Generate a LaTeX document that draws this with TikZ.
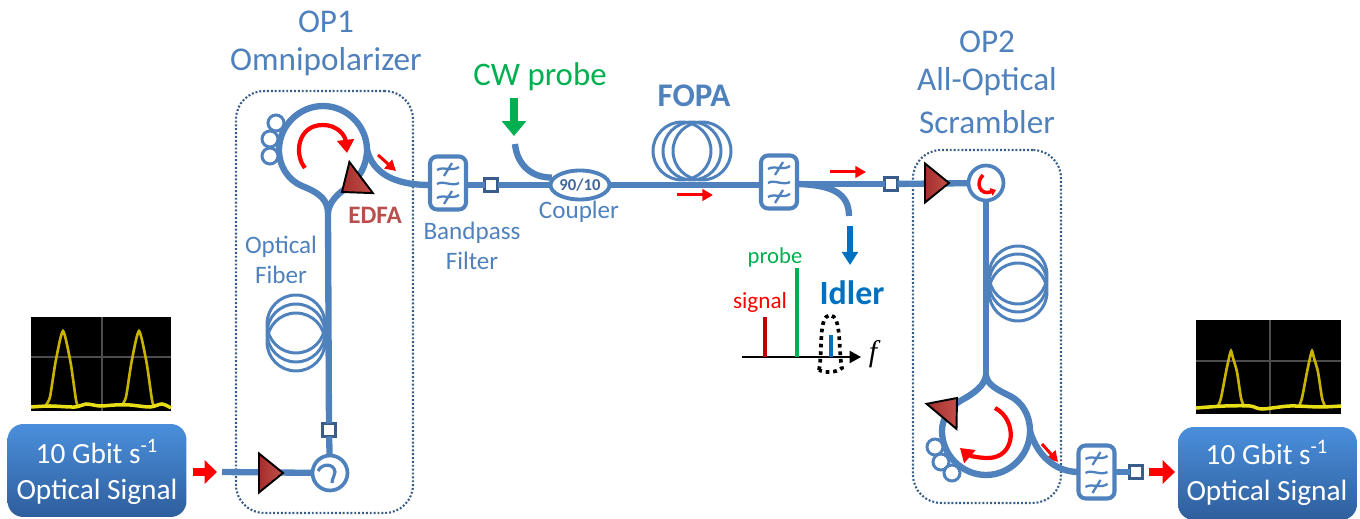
\documentclass[tikz,border=0pt]{standalone}
\usepackage{fontspec}
\setmainfont{Carlito}
\newfontfamily\serifa{Liberation Serif}
\usetikzlibrary{arrows.meta,shapes.geometric}
\definecolor{fibra}{HTML}{4F81BD}
\definecolor{escuro}{HTML}{385D8A}
\definecolor{verde}{HTML}{00B050}
\definecolor{azul}{HTML}{0070C0}
\definecolor{edfa}{HTML}{B94F4D}
\definecolor{ambar}{HTML}{C8B400}
\definecolor{ampesq}{HTML}{A32E2B}
\definecolor{ampdir}{HTML}{C4504C}
\definecolor{caixaA}{HTML}{4A8FDC}
\definecolor{caixaB}{HTML}{3E7FCC}
\definecolor{caixaC}{HTML}{2F5E9C}
\newcommand{\fibra}{\draw[line width=3.6pt,fibra]}
\newcommand{\seta}{\draw[-{Triangle[length=6pt,width=6.5pt]},line width=1.7pt,red]}
\newcommand{\setona}{\draw[-{Triangle[length=7pt,width=13pt]},line width=4.5pt,red]}
\newcommand{\giro}{\draw[-{Triangle[length=7.5pt,width=9.5pt]},line width=2.4pt,red]}
\newcommand{\filtro}[1]{%
  \draw[line width=1.3pt,fibra,shift={(#1)}]
    (-11,-13) .. controls (-5,-17) and (4,-11) .. (11,-16)
    (-4,-7) -- (4,-20)
    (-11,1) .. controls (-5,-3) and (4,4) .. (11,0)
    (-11,15) .. controls (-5,11) and (4,17) .. (11,12)
    (-4,21) -- (4,8);}
\tikzset{
  dotbox/.style={draw=escuro,dash pattern=on 1.1pt off 1.1pt,line width=1.2pt,rounded corners=16pt,inner sep=0pt},
  sqbox/.style={draw=escuro,fill=white,line width=1.8pt,minimum size=0.26cm,inner sep=0pt,outer sep=0pt},
  filterbox/.style={draw=fibra,fill=white,line width=2.3pt,rounded corners=4pt,minimum width=0.72cm,minimum height=1.06cm,inner sep=0pt,outer sep=0pt},
  circbox/.style={circle,draw=fibra,fill=white,line width=2.1pt,minimum size=0.7cm,inner sep=0pt,outer sep=0pt},
  coil/.style={circle,draw=fibra,line width=1.7pt,minimum size=1.16cm,inner sep=0pt},
  pump/.style={circle,draw=fibra,fill=white,line width=1.7pt,minimum size=0.32cm,inner sep=0pt},
  ampnode/.style={isosceles triangle,isosceles triangle stretches,draw=black,line width=1.1pt,left color=ampesq,right color=ampdir,
    minimum width=0.78cm,minimum height=0.48cm,inner sep=0pt,outer sep=0pt,anchor=apex},
  signalbox/.style={rounded corners=9pt,top color=caixaA,middle color=caixaB,bottom color=caixaC,
    minimum width=3.58cm,minimum height=1.86cm,inner sep=0pt},
  boxtext/.style={align=center,text=white,font=\fontsize{16.7}{20.5}\selectfont},
  scopebox/.style={fill=black,inner sep=0pt,minimum width=2.8cm,minimum height=1.88cm},
  titulo/.style={text=fibra,font=\fontsize{18.9}{20}\selectfont},
  rotulo/.style={text=fibra,font=\fontsize{14.3}{17}\selectfont,align=center},
  grade/.style={draw=gray!60!black,line width=0.6pt},
  traco/.style={draw=ambar,line width=1.5pt},
  base/.style={draw=yellow!90!black,line width=2pt}
}

\begin{document}
\begin{tikzpicture}[x=0.02cm,y=-0.02cm]
  \useasboundingbox (0,0) rectangle (1360,519);

  % caixas pontilhadas
  \node(op1) [dotbox,minimum width=3.54cm,minimum height=8.44cm] at (324.5,302) {};
  \node(op2) [dotbox,minimum width=2.96cm,minimum height=7.06cm] at (987,326.5) {};

  % entrada
  \node(in)   [signalbox] at (97,470.5) {};
  \node(inT)  [boxtext]   at (97,472) {10 Gbit s\textsuperscript{-1}\\Optical Signal};
  \node(scA)  [scopebox]  at (101,364) {};
  \draw[grade] (102,317) -- (102,411) (31,357) -- (171,357);
  \draw[traco] plot[smooth,tension=0.4] coordinates {(46,405) (50,397) (55,365) (60,340) (63,331) (66,340) (71,365) (76,400) (78,406)};
  \draw[traco] plot[smooth,tension=0.4] coordinates {(122,405) (126,397) (131,365) (136,340) (139,331) (142,340) (147,365) (152,400) (154,406)};
  \draw[base] plot[smooth] coordinates {(31,407) (50,406) (75,407) (86,404) (100,406) (115,405) (130,405) (150,407) (162,404) (171,408)};
  \coordinate(a1) at (193,472); \coordinate(a2) at (217,472);
  \setona(a1) -- (a2);

  % OP1
  \coordinate(f0) at (222,472);
  \node(circA) [circbox] at (330,473) {};
  \fibra(f0) -- (circA);
  \node(ampA)  [ampnode] at (283,473) {};
  \node(sqA)   [sqbox] at (329,430) {};
  \coordinate(jA) at (328,214);
  \fibra(circA) -- (sqA);
  \fibra(sqA) -- (jA);
  \fibra(jA) .. controls (328,200) and (320,193) .. (302,186) .. controls (288,180) and (279,166) .. (279,150) .. controls (279,126) and (299,106) .. (323,106) .. controls (347,106) and (367,126) .. (367,150) .. controls (367,166) and (358,180) .. (348,187) .. controls (338,193) and (328,203) .. (jA);
  \draw[line width=1.8pt,fibra] (318,471) .. controls (322,463) and (334,463) .. (335,472) .. controls (335,476) and (332,478) .. (332,483);
  \node(cA1) [coil] at (296,324) {};
  \node(cA2) [coil] at (296,333) {};
  \node(cA3) [coil] at (296,342) {};
  \node(pA1) [pump] at (276,123) {};
  \node(pA2) [pump] at (270,139) {};
  \node(pA3) [pump] at (270,156) {};
  \node(ampB) [ampnode,rotate=217] at (342,192) {};
  \coordinate(g1) at (305,168); \coordinate(g2) at (347,153);
  \giro(g1) .. controls (294,155) and (297,125) .. (323,125) .. controls (337,125) and (345,135) .. (g2);
  \coordinate(a3) at (378,155); \coordinate(a4) at (396,171);
  \seta(a3) -- (a4);

  % filtro 1 e acoplador
  \node(bpfA) [filterbox] at (448,183) {};
  \filtro{bpfA}
  \fibra(367,150) .. controls (373,172) and (392,185) .. (bpfA.west |- 0,185);
  \node(sqB)  [sqbox] at (491,185) {};
  \fibra(bpfA.east |- sqB) -- (sqB);
  \node(cpl)  [ellipse,draw=fibra,fill=white,line width=2.2pt,minimum width=1.18cm,minimum height=0.58cm,inner sep=0pt,text=fibra!80!black,font=\fontsize{9.5}{10}\bfseries] at (580,185) {90/10};
  \fibra(sqB) -- (cpl);
  \coordinate(pb) at (515,144);
  \fibra(pb) .. controls (517,165) and (532,178) .. (cpl.165);
  \coordinate(g3) at (514,98); \coordinate(g4) at (514,136);
  \draw[-{Triangle[length=8.5pt,width=13.5pt]},line width=4.5pt,verde] (g3) -- (g4);

  % FOPA
  \node(bpfB) [filterbox] at (779,182) {};
  \filtro{bpfB}
  \fibra(cpl) -- (bpfB.west |- cpl);
  \node(cB1) [coil] at (682,151) {};
  \node(cB2) [coil] at (692,151) {};
  \node(cB3) [coil] at (702,151) {};
  \coordinate(a5) at (677,195); \coordinate(a6) at (713,195);
  \seta(a5) -- (a6);

  % saida do filtro 2
  \node(sqC) [sqbox] at (891,184) {};
  \fibra(bpfB.east |- sqC) -- (sqC);
  \coordinate(id) at (849,216);
  \fibra(bpfB.east |- sqC) .. controls (830,185) and (849,192) .. (id);
  \coordinate(a7) at (830,172); \coordinate(a8) at (866,172);
  \seta(a7) -- (a8);
  \coordinate(g5) at (850,226); \coordinate(g6) at (850,265);
  \draw[-{Triangle[length=7.5pt,width=9pt]},line width=3.2pt,azul] (g5) -- (g6);

  % espectro
  \coordinate(e0) at (742,357); \coordinate(e1) at (861,357);
  \draw[-{Triangle[length=6.5pt,width=7pt]},line width=1pt] (e0) -- (e1);
  \coordinate(s0) at (765,357); \coordinate(s1) at (765,317);
  \coordinate(p0) at (797,357); \coordinate(p1) at (797,268);
  \coordinate(i0) at (831,357); \coordinate(i1) at (831,335);
  \draw[line width=2.8pt,red!75!black] (s0) -- (s1);
  \draw[line width=2.8pt,verde] (p0) -- (p1);
  \draw[line width=2.8pt,azul] (i0) -- (i1);
  \draw[line width=2.1pt,dash pattern=on 2.1pt off 2.2pt] (819,370) .. controls (823,350) and (818,316) .. (830,315) .. controls (842,316) and (838,350) .. (842,368) .. controls (836,373) and (825,373) .. (819,370);
  \node(fq)   [font=\fontsize{17}{18}\serifa\itshape] at (873,354) {f};
  \node(lsig) [text=red,font=\fontsize{13.2}{15}\selectfont] at (760,302) {signal};
  \node(lprb) [text=verde,font=\fontsize{12.9}{15}\selectfont] at (775,257) {probe};
  \node(lidl) [text=azul,font=\fontsize{19.3}{22}\selectfont\bfseries] at (852,293) {Idler};

  % OP2
  \node(circB) [circbox] at (986,183) {};
  \fibra(sqC) -- (circB);
  \node(ampC)  [ampnode] at (949,183) {};
  \coordinate(jB) at (986,375);
  \fibra(circB) -- (jB);
  \fibra(jB) .. controls (985,385) and (975,393) .. (960,401) .. controls (950,408) and (942,418) .. (942,431) .. controls (942,455) and (962,475) .. (986,475) .. controls (1010,475) and (1030,455) .. (1030,431) .. controls (1030,415) and (1022,402) .. (1010,396) .. controls (998,390) and (987,385) .. (jB);
  \coordinate(g7) at (983,175); \coordinate(g8) at (996,190);
  \draw[-{Triangle[length=3pt,width=4.5pt]},line width=2pt,red] (g7) .. controls (975,183) and (980,196) .. (g8);
  \node(cC1) [coil] at (1018,275) {};
  \node(cC2) [coil] at (1018,283) {};
  \node(cC3) [coil] at (1018,292) {};
  \node(pB1) [pump] at (935,447) {};
  \node(pB2) [pump] at (941,462) {};
  \node(pB3) [pump] at (952,473) {};
  \node(ampD) [ampnode,rotate=50] at (957,398) {};
  \coordinate(g9) at (995,408); \coordinate(g10) at (960,448);
  \giro(g9) .. controls (1018,420) and (1016,458) .. (988,458) .. controls (977,458) and (968,455) .. (g10);
  \coordinate(a9) at (1042,444); \coordinate(a10) at (1058,462);
  \seta(a9) -- (a10);

  % filtro 3 e saida
  \node(bpfC) [filterbox] at (1096.5,472) {};
  \filtro{bpfC}
  \fibra(1030,431) .. controls (1037,455) and (1055,472) .. (bpfC.west);
  \node(sqD) [sqbox] at (1136,472) {};
  \fibra(bpfC) -- (sqD);
  \coordinate(a11) at (1149,472); \coordinate(a12) at (1175,472);
  \setona(a11) -- (a12);
  \node(out)  [signalbox] at (1267.5,473.5) {};
  \node(outT) [boxtext]   at (1267,473) {10 Gbit s\textsuperscript{-1}\\Optical Signal};
  \node(scB)  [scopebox,minimum width=2.9cm] at (1268.5,367) {};
  \draw[grade] (1270,320) -- (1270,414) (1196,361) -- (1341,361);
  \draw[traco] plot[smooth,tension=0.4] coordinates {(1218,406) (1221,398) (1226,372) (1229,358) (1231,351) (1233,358) (1237,372) (1241,398) (1244,406)};
  \draw[traco] plot[smooth,tension=0.4] coordinates {(1299,406) (1302,398) (1307,372) (1310,358) (1312,351) (1314,358) (1318,372) (1322,398) (1325,406)};
  \draw[base] plot[smooth] coordinates {(1196,408) (1225,406) (1250,406) (1262,409) (1290,406) (1320,407) (1341,406)};

  % rotulos
  \node(top1) [titulo] at (326,22) {OP1};
  \node(top2) [titulo] at (326,62) {Omnipolarizer};
  \node(top3) [titulo] at (987,42) {OP2};
  \node(top4) [titulo] at (987,82) {All-Optical};
  \node(top5) [titulo] at (987,122) {Scrambler};
  \node(lfib) [rotulo] at (281,260) {Optical\\Fiber};
  \node(ledf) [text=edfa,font=\fontsize{14.3}{16}\selectfont\bfseries] at (375,215) {EDFA};
  \node(lbpf) [rotulo] at (472,246) {Bandpass\\Filter};
  \node(lcpl) [rotulo] at (579,212) {Coupler};
  \node(lcw)  [text=verde,font=\fontsize{18.7}{20}\selectfont] at (540,77) {CW probe};
  \node(lfop) [text=fibra,font=\fontsize{18.8}{20}\selectfont\bfseries] at (694,96) {FOPA};
\end{tikzpicture}
\end{document}
